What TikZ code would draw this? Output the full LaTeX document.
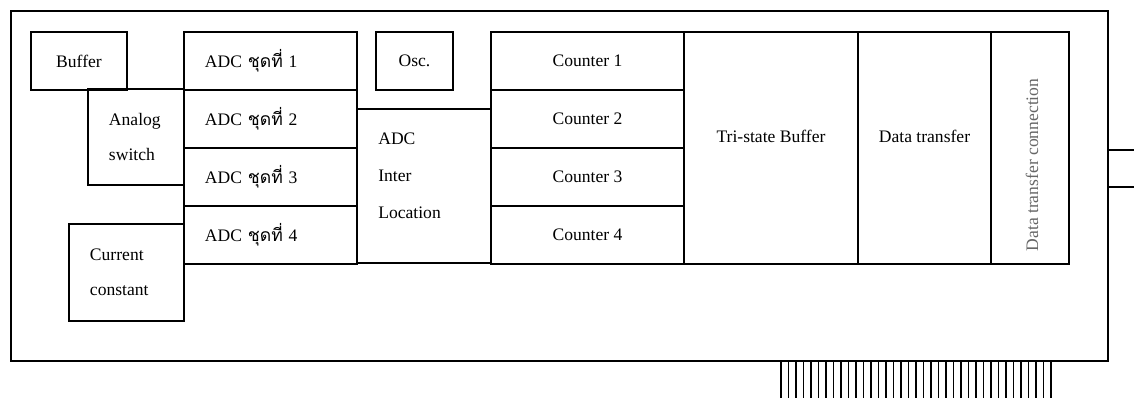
\documentclass[tikz,border=0pt]{standalone}
\usepackage{fontspec}
\setmainfont{Liberation Serif}
\newfontfamily\thaifont[Script=Thai]{Loma}
\usetikzlibrary{calc}

\tikzstyle{block} = [rectangle, draw=black, line width=1pt, inner sep=0pt, outer sep=0pt, anchor=north west, text centered, font=\fontsize{10}{12}\selectfont]
\tikzstyle{leftblock} = [block, inner xsep=0.42cm, align=left]
\tikzstyle{txt} = [inner sep=0pt, font=\fontsize{10}{12}\selectfont]
\tikzstyle{wire} = [line width=1pt]
\newcommand{\adcset}[1]{ADC {\thaifont ชุดที่} #1}

\begin{document}
\begin{tikzpicture}[x=0.02cm, y=-0.02cm]
    \useasboundingbox (0,0) rectangle (1134,398);

    % board outline
    \node (board) [block, minimum width=21.94cm, minimum height=7cm] at (11,11) {};

    % analog side
    \node (buffer) [block, minimum width=1.92cm, minimum height=1.16cm] at (31,32) {Buffer};
    \node (analog) [leftblock, text width=1.08cm, minimum width=1.92cm, minimum height=1.92cm] at (88,89) {Analog\\[8pt]switch};
    \node (current) [leftblock, text width=1.46cm, minimum width=2.3cm, minimum height=1.94cm] at (69,224) {Current\\[8pt]constant};
    \node (adc1) [leftblock, text width=2.62cm, minimum width=3.46cm, minimum height=1.16cm] at (184,32) {\adcset{1}};
    \node (adc2) [leftblock, text width=2.62cm, minimum width=3.46cm, minimum height=1.16cm] at (184,90) {\adcset{2}};
    \node (adc3) [leftblock, text width=2.62cm, minimum width=3.46cm, minimum height=1.16cm] at (184,148) {\adcset{3}};
    \node (adc4) [leftblock, text width=2.62cm, minimum width=3.46cm, minimum height=1.16cm] at (184,206) {\adcset{4}};
    \node (osc) [block, minimum width=1.54cm, minimum height=1.16cm] at (376,32) {Osc.};
    \node (inter) [block, minimum width=2.68cm, minimum height=3.08cm] at (357,109) {};
    \node (intertext) [txt, anchor=west, align=left] at ($(inter.west)+(21,-10)$) {ADC\\[9pt]Inter\\[9pt]Location};

    % counters
    \node (cnt1) [block, minimum width=3.86cm, minimum height=1.16cm] at (491,32) {Counter 1};
    \node (cnt2) [block, minimum width=3.86cm, minimum height=1.16cm] at (491,90) {Counter 2};
    \node (cnt3) [block, minimum width=3.86cm, minimum height=1.16cm] at (491,148) {Counter 3};
    \node (cnt4) [block, minimum width=3.86cm, minimum height=1.16cm] at (491,206) {Counter 4};

    % bus side
    \node (tsb) [block, minimum width=3.48cm, minimum height=4.64cm] at (684,32) {};
    \node (tsbtext) [txt] at ($(tsb.center)+(0,-12)$) {Tri-state Buffer};
    \node (dtr) [block, minimum width=2.66cm, minimum height=4.64cm] at (858,32) {};
    \node (dtrtext) [txt] at ($(dtr.center)+(0,-12)$) {Data transfer};
    \node (conn) [block, minimum width=1.56cm, minimum height=4.64cm] at (991,32) {};
    \node (conntext) [txt, rotate=90, text=black!60] at ($(conn.center)+(2,17)$) {Data transfer connection};

    % cable on the right
    \coordinate (out1) at (1134,150);
    \coordinate (out2) at (1134,187);
    \draw [wire] (board.east |- out1) -- (out1);
    \draw [wire] (board.east |- out2) -- (out2);

    % edge pins
    \foreach \i in {0,...,36}
        \draw [line width=1.1pt] (781+\i*7.5,361) -- ++(0,37);

\end{tikzpicture}
\end{document}
